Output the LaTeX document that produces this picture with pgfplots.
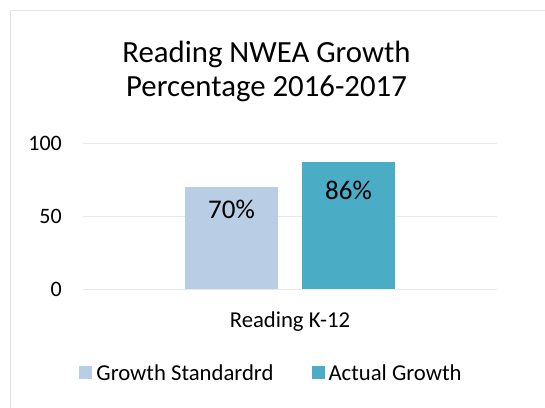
\documentclass[border=0pt]{standalone}
\usepackage{pgfplots}
\pgfplotsset{compat=1.18}
\usepackage{fontspec}
\setmainfont{Carlito}
\definecolor{barA}{HTML}{B9CDE5}
\definecolor{barB}{HTML}{4BACC6}
\definecolor{gridc}{HTML}{E8E8E8}
\definecolor{framec}{HTML}{E3E3E3}
\begin{document}
\begin{tikzpicture}[x=1pt,y=1pt]
\useasboundingbox (0,0) rectangle (545,407);
\fill[white] (0,0) rectangle (545,407);
\draw[framec, line width=1pt] (10.5,-5) -- (10.5,396.5) -- (560,396.5);
\node[anchor=base, inner sep=0pt, font=\fontsize{30.8}{36}\selectfont] at (266.5,344) {Reading NWEA Growth};
\node[anchor=base, inner sep=0pt, font=\fontsize{30.8}{36}\selectfont] at (266.5,310) {Percentage 2016-2017};
\begin{axis}[
  at={(83pt,118pt)}, anchor=south west,
  scale only axis, width=414pt, height=146pt,
  ybar=24pt, bar width=93pt,
  xmin=-0.5, xmax=0.5, ymin=0, ymax=100,
  xtick={0}, xticklabels={Reading K-12},
  ytick={0,50,100},
  axis line style={draw=none},
  major tick length=0pt,
  ymajorgrids, grid style={gridc, line width=1pt},
  yticklabel style={font=\fontsize{22}{26}\selectfont, anchor=east, inner sep=0pt, xshift=-21pt},
  xticklabel style={font=\fontsize{22.7}{26}\selectfont, anchor=base, inner sep=0pt, yshift=-38pt},
  /pgf/number format/assume math mode=true,
  nodes near coords,
  point meta=explicit symbolic,
  legend columns=2,
  legend style={at={(0.4553,-0.5753)}, anchor=center, draw=none, fill=none,
    font=\fontsize{22.7}{26}\selectfont,
    /tikz/every even column/.append style={column sep=36pt}},
  legend image code/.code={\fill[#1] (0pt,-6.5pt) rectangle (13pt,6.5pt);},
]
\addplot[draw=none, fill=barA,
  every node near coord/.append style={anchor=north, inner sep=0pt, yshift=-13pt, font=\fontsize{27}{32}\selectfont, black}]
  coordinates {(0,69.7) [70\%]};
\addplot[draw=none, fill=barB,
  every node near coord/.append style={anchor=north, inner sep=0pt, yshift=-18pt, font=\fontsize{27}{32}\selectfont, black}]
  coordinates {(0,86.7) [86\%]};
\addlegendentry{\hspace{2pt}Growth Standardrd}
\addlegendentry{\hspace{2pt}Actual Growth}
\end{axis}
\end{tikzpicture}
\end{document}
